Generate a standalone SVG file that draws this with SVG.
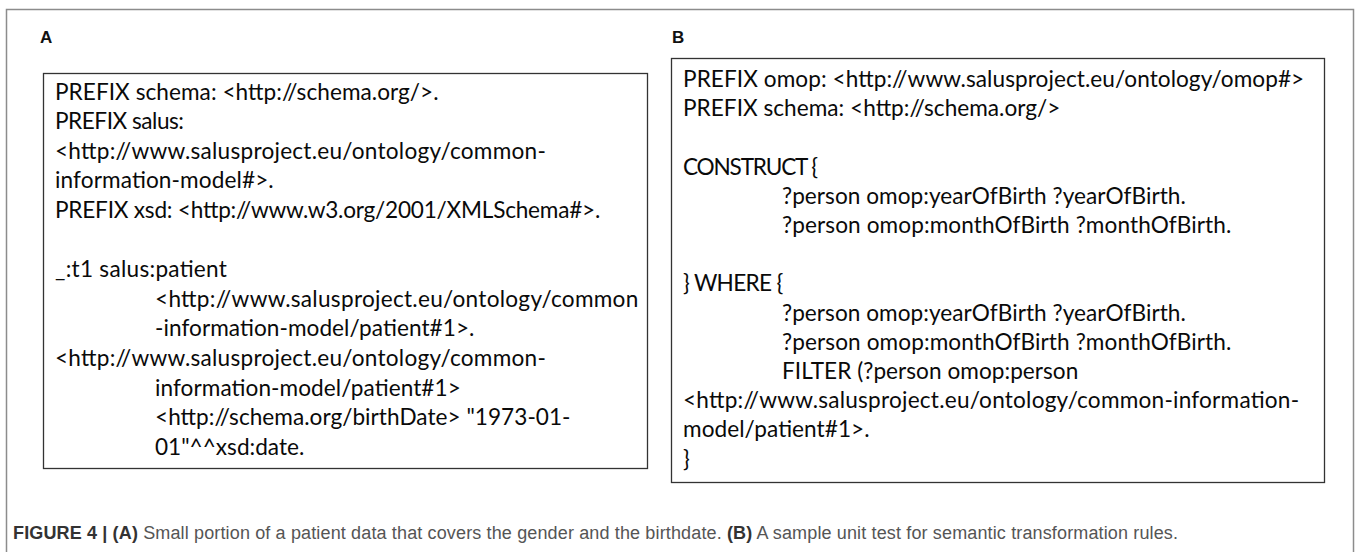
<svg xmlns="http://www.w3.org/2000/svg" width="1357" height="552" viewBox="0 0 1357 552">
<style>
.frame{fill:none;stroke:#8c8c8c;stroke-width:1.5}
.box{fill:#fff;stroke:#333;stroke-width:1.3}
.lbl{font-family:"Liberation Sans",Arial,sans-serif;font-weight:bold;font-size:17px;fill:#111}
.code{font-family:Lato,"Noto Sans",sans-serif;font-size:22.6px;fill:#0a0a0a}
.cap{font-family:"Liberation Sans",Arial,sans-serif;font-size:18px;fill:#555}
.capb{font-weight:bold;fill:#333}
</style>
<rect class="frame" x="6.5" y="9.5" width="1347" height="600"/>
<text class="lbl" x="40" y="43">A</text>
<text class="lbl" x="672" y="43">B</text>
<g id="connectors"/>
<g id="boxA">
<rect class="box" x="43.5" y="73.5" width="604" height="395"/>
<text class="code" x="55" y="99.5" textLength="383.6" lengthAdjust="spacing">PREFIX schema: &lt;http://schema.org/&gt;.</text>
<text class="code" x="55" y="129.1" textLength="129" lengthAdjust="spacing">PREFIX salus:</text>
<text class="code" x="55" y="158.7" textLength="490.8" lengthAdjust="spacing">&lt;http://www.salusproject.eu/ontology/common-</text>
<text class="code" x="55" y="188.3" textLength="218.7" lengthAdjust="spacing">information-model#&gt;.</text>
<text class="code" x="55" y="217.9" textLength="545.3" lengthAdjust="spacing">PREFIX xsd: &lt;http://www.w3.org/2001/XMLSchema#&gt;.</text>
<text class="code" x="55" y="277.1" textLength="171.9" lengthAdjust="spacing">_:t1 salus:patient</text>
<text class="code" x="155" y="306.7" textLength="483.3" lengthAdjust="spacing">&lt;http://www.salusproject.eu/ontology/common</text>
<text class="code" x="155" y="336.3" textLength="319.4" lengthAdjust="spacing">-information-model/patient#1&gt;.</text>
<text class="code" x="55" y="365.9" textLength="490.8" lengthAdjust="spacing">&lt;http://www.salusproject.eu/ontology/common-</text>
<text class="code" x="155" y="395.5" textLength="305.8" lengthAdjust="spacing">information-model/patient#1&gt;</text>
<text class="code" x="155" y="425.1" textLength="415.5" lengthAdjust="spacing">&lt;http://schema.org/birthDate&gt; "1973-01-</text>
<text class="code" x="155" y="454.7" textLength="149.3" lengthAdjust="spacing">01"^^xsd:date.</text>
</g>
<g id="boxB">
<rect class="box" x="671.5" y="58.5" width="653" height="424"/>
<text class="code" x="683" y="87" textLength="621.2" lengthAdjust="spacing">PREFIX omop: &lt;http://www.salusproject.eu/ontology/omop#&gt;</text>
<text class="code" x="683" y="116.2" textLength="377.4" lengthAdjust="spacing">PREFIX schema: &lt;http://schema.org/&gt;</text>
<text class="code" x="683" y="174.6" textLength="135" lengthAdjust="spacing">CONSTRUCT {</text>
<text class="code" x="782" y="203.8" textLength="403.8" lengthAdjust="spacing">?person omop:yearOfBirth ?yearOfBirth.</text>
<text class="code" x="782" y="233" textLength="449.3" lengthAdjust="spacing">?person omop:monthOfBirth ?monthOfBirth.</text>
<text class="code" x="683" y="291.4" textLength="100.3" lengthAdjust="spacing">} WHERE {</text>
<text class="code" x="782" y="320.6" textLength="403.8" lengthAdjust="spacing">?person omop:yearOfBirth ?yearOfBirth.</text>
<text class="code" x="782" y="349.8" textLength="449.3" lengthAdjust="spacing">?person omop:monthOfBirth ?monthOfBirth.</text>
<text class="code" x="782" y="379" textLength="296.3" lengthAdjust="spacing">FILTER (?person omop:person</text>
<text class="code" x="683" y="408.2" textLength="616.1" lengthAdjust="spacing">&lt;http://www.salusproject.eu/ontology/common-information-</text>
<text class="code" x="683" y="437.4" textLength="186.6" lengthAdjust="spacing">model/patient#1&gt;.</text>
<text class="code" x="683" y="466.6">}</text>
</g>
<g id="caption">
<text class="cap" x="13" y="539" textLength="1165" lengthAdjust="spacing"><tspan class="capb">FIGURE 4 | (A)</tspan> Small portion of a patient data that covers the gender and the birthdate. <tspan class="capb">(B)</tspan> A sample unit test for semantic transformation rules.</text>
</g>
</svg>
